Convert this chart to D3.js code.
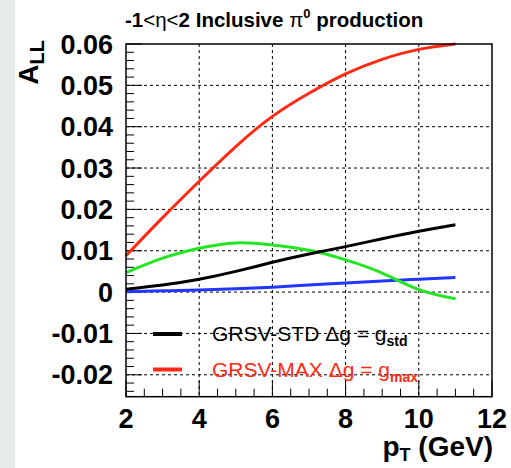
<!DOCTYPE html>
<html>
<head>
<meta charset="utf-8">
<script src="https://cdn.jsdelivr.net/npm/d3@7"></script>
<style>
  body { margin: 0; background: #fff; }
  svg { display: block; font-family: "Liberation Sans", Arial, sans-serif; }
</style>
</head>
<body>
<div id="chart"></div>
<script>
// values
var pt = [2, 3, 4, 5, 6, 7, 8, 9, 10, 11];
var grsvMax = [0.0088, 0.0180, 0.0268, 0.0352, 0.0425, 0.0481, 0.0528, 0.0563, 0.0587, 0.0600];
var grsvStd = [0.0007, 0.0017, 0.0031, 0.0050, 0.0072, 0.0092, 0.0110, 0.0129, 0.0147, 0.0163];
var green = [0.0047, 0.0082, 0.0106, 0.0119, 0.0114, 0.0101, 0.0078, 0.0046, 0.0006, -0.0016];
var blue = [0.0001, 0.0003, 0.0005, 0.0008, 0.0012, 0.0017, 0.0022, 0.0027, 0.0031, 0.0035];
var xTicks = [2, 4, 6, 8, 10, 12];
var yTicks = [-0.02, -0.01, 0, 0.01, 0.02, 0.03, 0.04, 0.05, 0.06];

var W = 511, H = 468;
var x0 = 126, x1 = 492, y0 = 44, y1 = 396.7;

var svg = d3.select('#chart').append('svg')
    .attr('width', W)
    .attr('height', H);

// light strip on the left
svg.append('rect').attr('x', 0).attr('y', 0).attr('width', 15).attr('height', H)
    .attr('fill', '#e6ece9');

var x = d3.scaleLinear().domain([2, 12]).range([x0, x1]);
var y = d3.scaleLinear().domain([-0.0253, 0.06]).range([y1, y0]);

var g = svg.append('g');

// dashed grid
g.selectAll('.gx').data(xTicks.slice(1, -1)).enter().append('line')
    .attr('x1', d => x(d)).attr('x2', d => x(d))
    .attr('y1', y0).attr('y2', y1)
    .attr('stroke', '#000').attr('stroke-width', 1).attr('stroke-dasharray', '3,3');
g.selectAll('.gy').data(yTicks.slice(0, -1)).enter().append('line')
    .attr('x1', x0).attr('x2', x1)
    .attr('y1', d => y(d)).attr('y2', d => y(d))
    .attr('stroke', '#000').attr('stroke-width', 1).attr('stroke-dasharray', '3,3');

// ticks inside the frame
var yMinor = d3.range(-0.024, 0.0601, 0.002);
g.selectAll('.ty').data(yMinor).enter().append('line')
    .attr('x1', x0)
    .attr('x2', d => x0 + (Math.abs(Math.round(d * 1000)) % 10 == 0 ? 16 : 8))
    .attr('y1', d => y(d)).attr('y2', d => y(d))
    .attr('stroke', '#000').attr('stroke-width', 1);
var xMinor = d3.range(2, 12.01, 0.5);
g.selectAll('.tx').data(xMinor).enter().append('line')
    .attr('x1', d => x(d)).attr('x2', d => x(d))
    .attr('y1', y1)
    .attr('y2', d => y1 - (d % 2 == 0 ? 16 : 8))
    .attr('stroke', '#000').attr('stroke-width', 1);

// curves
var line = d3.line().curve(d3.curveNatural)
    .x(d => x(d[0])).y(d => y(d[1]));
var series = [
    {v: blue, c: '#2236ff'},
    {v: green, c: '#22e622'},
    {v: grsvStd, c: '#000000'},
    {v: grsvMax, c: '#ff2a14'}
];
series.forEach(s => {
    g.append('path')
        .attr('d', line(pt.map((p, i) => [p, s.v[i]])))
        .attr('fill', 'none')
        .attr('stroke', s.c)
        .attr('stroke-width', 3);
});

// frame
g.append('rect').attr('x', x0).attr('y', y0)
    .attr('width', x1 - x0).attr('height', y1 - y0)
    .attr('fill', 'none').attr('stroke', '#000').attr('stroke-width', 1.5);

// tick labels
svg.selectAll('.ly').data(yTicks).enter().append('text')
    .attr('x', 113).attr('y', d => y(d) + 9.5)
    .attr('text-anchor', 'end')
    .attr('font-size', 27).attr('font-weight', 'bold')
    .text(d => d == 0 ? '0' : d3.format('.2f')(d).replace('−', '-'));
svg.selectAll('.lx').data(xTicks).enter().append('text')
    .attr('x', d => x(d)).attr('y', 428)
    .attr('text-anchor', 'middle')
    .attr('font-size', 27).attr('font-weight', 'bold')
    .text(d => d);

// axis titles
var xt = svg.append('text').attr('x', 493).attr('y', 456)
    .attr('text-anchor', 'end').attr('font-size', 28).attr('font-weight', 'bold');
xt.append('tspan').text('p');
xt.append('tspan').attr('font-size', 18).attr('dy', 5).text('T');
xt.append('tspan').attr('dy', -5).text(' (GeV)');

var yt = svg.append('text').attr('transform', 'translate(38,40) rotate(-90)')
    .attr('text-anchor', 'end').attr('font-size', 28).attr('font-weight', 'bold');
yt.append('tspan').text('A');
yt.append('tspan').attr('font-size', 20).attr('dy', 6).text('LL');

// title
var tt = svg.append('text').attr('x', 125).attr('y', 27)
    .attr('font-size', 20.5).attr('font-weight', 'bold');
tt.append('tspan').text('-1');
tt.append('tspan').attr('font-weight', 'normal').text('<η<');
tt.append('tspan').text('2 Inclusive ');
tt.append('tspan').attr('font-weight', 'normal').text('π');
tt.append('tspan').attr('font-size', 13).attr('dy', -9).text('0');
tt.append('tspan').attr('dy', 9).text(' production');

// legend
var legend = [
    {c: '#000000', name: 'GRSV-STD Δg = g', sub: 'std', y: 334},
    {c: '#ff2a14', name: 'GRSV-MAX Δg = g', sub: 'max', y: 369.5}
];
legend.forEach(l => {
    svg.append('line').attr('x1', 153).attr('x2', 182)
        .attr('y1', l.y).attr('y2', l.y)
        .attr('stroke', l.c).attr('stroke-width', 4);
    var t = svg.append('text').attr('x', 212).attr('y', l.y + 7)
        .attr('fill', l.c).attr('font-size', 21);
    t.append('tspan').text(l.name);
    t.append('tspan').attr('font-size', 14).attr('font-weight', 'bold').attr('dy', 5).text(l.sub);
});
</script>
</body>
</html>
